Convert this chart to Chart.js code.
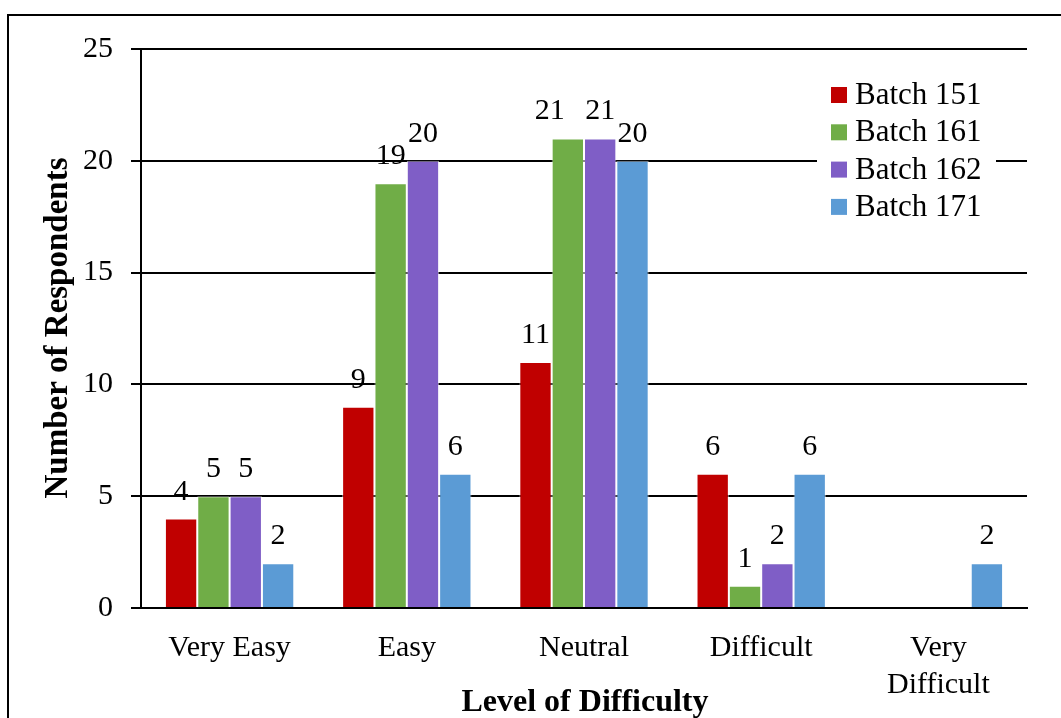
<!DOCTYPE html>
<html>
<head>
<meta charset="utf-8">
<script src="https://cdn.jsdelivr.net/npm/chart.js@4"></script>
<style>
  html, body { margin: 0; padding: 0; background: #fff; overflow: hidden; }
  #wrap { position: relative; width: 1061px; height: 718px; }
</style>
</head>
<body>
<div id="wrap"><canvas id="difficultyChart"></canvas></div>
<script>
const categories = ['Very Easy', 'Easy', 'Neutral', 'Difficult', ['Very', 'Difficult']];
const batchNames = ['Batch 151', 'Batch 161', 'Batch 162', 'Batch 171'];
const batch151 = [4, 9, 11, 6, 0];
const batch161 = [5, 19, 21, 1, 0];
const batch162 = [5, 20, 21, 2, 0];
const batch171 = [2, 6, 20, 6, 2];
const yTicks = [0, 5, 10, 15, 20, 25];

const colours = ['#C00000', '#70AD47', '#7F5EC6', '#5B9BD5'];
const serif = '"Liberation Serif", "Times New Roman", serif';

const seriesData = [batch151, batch161, batch162, batch171];

const datasets = seriesData.map(function (d, i) {
    return {
        label: batchNames[i],
        data: d,
        backgroundColor: colours[i],
        borderColor: 'rgba(255,255,255,0.55)',
        borderWidth: 1,
        borderSkipped: 'bottom',
        barPercentage: 1,
        categoryPercentage: 0.73
    };
});

// value labels over each bar, box, titles and legend
const decorations = {
    id: 'decorations',
    afterDatasetsDraw(chart) {
        const ctx = chart.ctx;
        ctx.save();
        ctx.fillStyle = '#000';
        ctx.font = '30px ' + serif;
        ctx.textAlign = 'center';
        ctx.textBaseline = 'alphabetic';
        const n = chart.data.datasets.length;
        chart.data.datasets.forEach(function (ds, i) {
            const meta = chart.getDatasetMeta(i);
            meta.data.forEach(function (bar, j) {
                const v = ds.data[j];
                if (!v) return;
                let x = bar.x;
                // nudge a label left when it would touch the same-height label next to it
                if (i < n - 1) {
                    const nextV = chart.data.datasets[i + 1].data[j];
                    const nextBar = chart.getDatasetMeta(i + 1).data[j];
                    const w = ctx.measureText(String(v)).width;
                    if (nextV === v && w + 6 > nextBar.x - bar.x) x -= 18;
                }
                ctx.fillText(String(v), x, bar.y - 19);
            });
        });
        ctx.restore();
    },
    afterDraw(chart) {
        const ctx = chart.ctx;
        ctx.save();

        // outer frame
        ctx.strokeStyle = '#000';
        ctx.lineWidth = 2;
        ctx.strokeRect(8, 15, 2000, 2000);

        // axis titles
        ctx.fillStyle = '#000';
        ctx.font = 'bold 32px ' + serif;
        ctx.textAlign = 'center';
        ctx.textBaseline = 'middle';
        ctx.fillText('Level of Difficulty', 585, 703);
        ctx.save();
        ctx.translate(58, 328);
        ctx.rotate(-Math.PI / 2);
        ctx.font = 'bold 33px ' + serif;
        ctx.fillText('Number of Respondents', 0, 0);
        ctx.restore();

        // legend
        ctx.fillStyle = '#fff';
        ctx.fillRect(817, 76, 179, 146);
        ctx.font = '31px ' + serif;
        ctx.textAlign = 'left';
        batchNames.forEach(function (name, i) {
            const cy = 95 + i * 37.3;
            ctx.fillStyle = colours[i];
            ctx.fillRect(831, cy - 8, 16, 16);
            ctx.fillStyle = '#000';
            ctx.fillText(name, 855, cy + 1);
        });
        ctx.restore();
    }
};

const config = {
    type: 'bar',
    data: { labels: categories, datasets: datasets },
    options: {
        responsive: true,
        maintainAspectRatio: false,
        animation: false,
        layout: { padding: { top: 49, right: 34, left: 0, bottom: 0 } },
        plugins: {
            legend: { display: false },
            tooltip: { enabled: false }
        },
        scales: {
            x: {
                grid: { display: false, drawTicks: false },
                border: { display: true, color: '#000', width: 2 },
                ticks: {
                    color: '#000',
                    font: { family: serif, size: 30, lineHeight: 1.25 },
                    padding: 21,
                    maxRotation: 0,
                    autoSkip: false
                },
                afterFit: function (scale) { scale.height = 110; }
            },
            y: {
                min: 0,
                max: 25,
                afterBuildTicks: function (scale) {
                    scale.ticks = yTicks.map(function (v) { return { value: v }; });
                },
                grid: { color: '#000', lineWidth: 2, tickLength: 10 },
                border: { display: true, color: '#000', width: 2 },
                ticks: {
                    color: '#000',
                    font: { family: serif, size: 30 },
                    padding: 18
                },
                afterFit: function (scale) { scale.width = 141; }
            }
        }
    },
    plugins: [decorations]
};

const chart = new Chart(document.getElementById('difficultyChart'), config);
</script>
</body>
</html>
